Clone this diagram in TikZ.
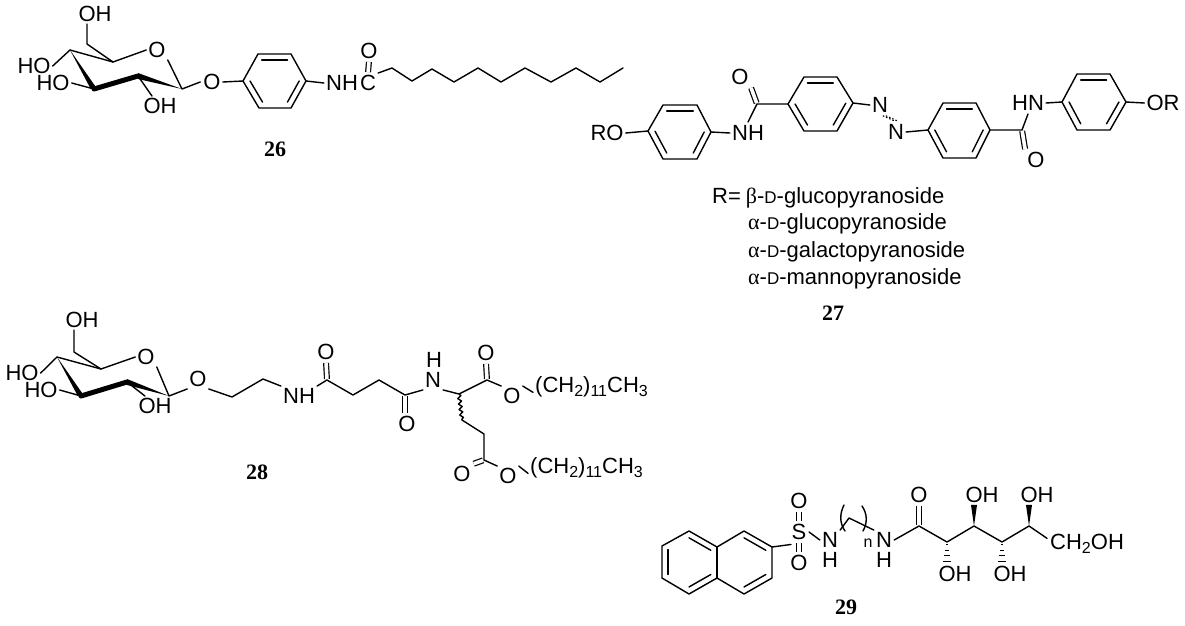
\documentclass[tikz,border=0pt]{standalone}
\usepackage{fontspec}
\usetikzlibrary{calc,decorations.pathmorphing}
\setmainfont{Liberation Sans}
\newfontfamily\serifgreek{Liberation Serif}
\newcommand{\sbs}[1]{\raisebox{-4pt}{\fontsize{16}{16}\selectfont #1}}
\newcommand{\ringdbl}[3]{\draw[bond] ($(#1)!.22!(#3)$) -- ($(#2)!.22!(#3)$);}
\newcommand{\pts}[1]{\foreach \n/\x/\y in {#1} {\coordinate (\n) at (\x,\y);}}
\newcommand{\hashb}[2]{\foreach \t/\w in {.12/.8,.37/1.6,.62/2.6,.87/3.6}
  {\draw[line width=1.1pt] ($(#1)!\t!(#2)+(-\w,0)$) -- ($(#1)!\t!(#2)+(\w,0)$);}}
\newcommand{\wedgeup}[2]{\fill (#1) -- ([xshift=-11pt]#2.south) -- ([xshift=-5pt]#2.south) -- cycle;}
\newcommand{\lgreek}[1]{{\serifgreek #1}}
\newcommand{\smD}{{\fontsize{17}{17}\selectfont D}}
\tikzset{
  x=1pt,y=-1pt,
  bond/.style={line width=1.4pt,line cap=round,line join=round},
  dblbond/.style={double,double distance=3.6pt,line width=1.2pt,shorten >=1pt,shorten <=1pt},
  azobond/.style={line width=1.1pt,dash pattern=on 1.5pt off 2pt,shorten >=2pt,shorten <=2pt},
  boldbond/.style={line width=5pt,line cap=round},
  atom/.style={font=\fontsize{22}{22}\selectfont,inner sep=2pt,text height=15.5pt,text depth=0pt},
  sidechain/.style={font=\fontsize{22}{22}\selectfont,inner sep=0pt,anchor=base west},
  rlist/.style={font=\fontsize{22}{22}\selectfont,inner sep=0pt,anchor=base west},
  cpdnum/.style={font=\fontsize{22}{22}\selectfont\serifgreek\bfseries,inner sep=0pt}
}
\begin{document}
\begin{tikzpicture}
\useasboundingbox (0,0) rectangle (1185,625);
% ---------------- 26
\node[atom] (aoh6) at (95,14) {OH};
\node[atom] (aor) at (157,50) {O};
\node[atom] (aho4) at (34,66) {HO};
\node[atom] (aho3) at (53,83) {HO};
\node[atom] (aoh2) at (160,106) {OH};
\node[atom] (aol) at (212,82) {O};
\node[atom] (anh) at (342,83) {NH};
\node[atom] (acc) at (368,83) {C};
\node[atom] (aoc) at (369,51) {O};
\pts{ac6/87/44,ac5/113/62,ac1/182/89,ac2/138/76,ac3/94/89,ac4/70/50}
\pts{ar1/243/81,ar2/258/54,ar3/291/54,ar4/306/81,ar5/291/108,ar6/259/108,arc/275/81}
\pts{ch1/392/68,ch2/412/81,ch3/432/69,ch4/454/82,ch5/478/68,ch6/501/82,ch7/525/68,ch8/551/82,ch9/576/68,ch10/600/82,ch11/623/68}
\draw[bond] ([xshift=-8pt]aoh6.south) -- (ac6) -- (ac5) -- (aor.west);
\draw[bond] (ac4) -- (ac5);
\draw[bond] (aor.south east) -- (ac1) -- ([xshift=-1pt]aol.west);
\draw[bond] (ac4) -- (aho4.east);
\draw[bond] (aho3.east) -- (ac3);
\draw[bond] (ac2) -- ([xshift=-8pt]aoh2.north);
\fill (ac4) -- ([xshift=-3.2pt]ac3) -- ([xshift=3.2pt]ac3) -- cycle;
\draw[boldbond] (ac3) -- (ac2);
\fill (ac1) -- ([yshift=3pt]ac2) -- ([yshift=-3pt]ac2) -- cycle;
\draw[bond] (aol.east) -- (ar1);
\draw[bond] (ar1) -- (ar2) -- (ar3) -- (ar4) -- (ar5) -- (ar6) -- cycle;
\ringdbl{ar2}{ar3}{arc}\ringdbl{ar4}{ar5}{arc}\ringdbl{ar6}{ar1}{arc}
\draw[bond] (ar4) -- (anh.west);
\draw[dblbond] (aoc.south) -- (acc.north);
\draw[bond] (acc.north east) -- (ch1) -- (ch2) -- (ch3) -- (ch4) -- (ch5) -- (ch6) -- (ch7) -- (ch8) -- (ch9) -- (ch10) -- (ch11);
\node[cpdnum] (n26) at (275,149) {26};
% ---------------- 27
\node[atom] (bro) at (607,133) {RO};
\node[atom] (bnh) at (748,133) {NH};
\node[atom] (bo1) at (740,77) {O};
\node[atom] (bn1) at (880,105) {N};
\node[atom] (bn2) at (896,132) {N};
\node[atom] (bhn) at (1028,103) {HN};
\node[atom] (bo2) at (1036,160) {O};
\node[atom] (bor) at (1163,103) {OR};
\pts{pa1/648/131,pa2/663/105,pa3/697/105,pa4/711/132,pa5/697/159,pa6/663/159,pac/680/132}
\pts{pb1/788/104,pb2/804/77,pb3/837/77,pb4/853/103,pb5/837/131,pb6/804/131,pbc/820/104}
\pts{pc1/928/130,pc2/943/103,pc3/976/103,pc4/990/130,pc5/976/158,pc6/943/158,pcc/959/130}
\pts{pd1/1062/102,pd2/1077/74,pd3/1110/74,pd4/1126/102,pd5/1110/130,pd6/1077/130,pdc/1094/102}
\pts{bc1/757/104,bc2/1022/130}
\draw[bond] (bro.east) -- (pa1);
\draw[bond] (pa1) -- (pa2) -- (pa3) -- (pa4) -- (pa5) -- (pa6) -- cycle;
\ringdbl{pa2}{pa3}{pac}\ringdbl{pa4}{pa5}{pac}\ringdbl{pa6}{pa1}{pac}
\draw[bond] (pa4) -- (bnh.west);
\draw[bond] ([yshift=1pt]bnh.north) -- (bc1) -- (pb1);
\draw[bond] (pb1) -- (pb2) -- (pb3) -- (pb4) -- (pb5) -- (pb6) -- cycle;
\ringdbl{pb2}{pb3}{pbc}\ringdbl{pb4}{pb5}{pbc}\ringdbl{pb6}{pb1}{pbc}
\draw[dblbond] (bc1) -- (bo1.south east);
\draw[bond] (pb4) -- (bn1.west);
\draw[azobond] ([xshift=1pt]bn1.south) -- ([xshift=1pt]bn2.north);
\draw[azobond] ([xshift=4pt]bn1.south) -- ([xshift=4pt]bn2.north);
\draw[bond] (bn2.east) -- (pc1);
\draw[bond] (pc1) -- (pc2) -- (pc3) -- (pc4) -- (pc5) -- (pc6) -- cycle;
\ringdbl{pc2}{pc3}{pcc}\ringdbl{pc4}{pc5}{pcc}\ringdbl{pc6}{pc1}{pcc}
\draw[bond] (pc4) -- (bc2) -- ([yshift=-1pt]bhn.south);
\draw[dblbond] (bc2) -- (bo2.north west);
\draw[bond] (bhn.east) -- (pd1);
\draw[bond] (pd1) -- (pd2) -- (pd3) -- (pd4) -- (pd5) -- (pd6) -- cycle;
\ringdbl{pd2}{pd3}{pdc}\ringdbl{pd4}{pd5}{pdc}\ringdbl{pd6}{pd1}{pdc}
\draw[bond] (pd4) -- (bor.west);
\node[rlist] (r1) at (712,203) {R=\hspace{5pt}\lgreek{β}-\smD-glucopyranoside};
\node[rlist] (r2) at (748,229) {\lgreek{α}-\smD-glucopyranoside};
\node[rlist] (r3) at (748,257) {\lgreek{α}-\smD-galactopyranoside};
\node[rlist] (r4) at (748,284) {\lgreek{α}-\smD-mannopyranoside};
\node[cpdnum] (n27) at (833,313) {27};
% ---------------- 28
\node[atom] (coh6) at (82,320) {OH};
\node[atom] (cor) at (146,357) {O};
\node[atom] (cho4) at (22,373) {HO};
\node[atom] (cho3) at (41,390) {HO};
\node[atom] (coh2) at (155,406) {OH};
\node[atom] (col) at (198,379) {O};
\node[atom] (cnh1) at (299,396) {NH};
\node[atom] (co1) at (326,352) {O};
\node[atom] (co2) at (407,424) {O};
\node[atom] (cn2) at (433,380) {N};
\node[atom,inner sep=0pt] (ch2t) at (434,360) {H};
\node[atom] (co3) at (486,353) {O};
\node[atom] (co4) at (512,396) {O};
\node[atom] (co5) at (462,474) {O};
\node[atom] (co6) at (508,476) {O};
\node[sidechain] (cal1) at (535,392) {(CH\sbs{2})\sbs{11}CH\sbs{3}};
\node[sidechain] (cal2) at (530,473) {(CH\sbs{2})\sbs{11}CH\sbs{3}};
\pts{cc6/74/352,cc5/101/369,cc1/169/396,cc2/127/382,cc3/81/396,cc4/57/357}
\pts{cl1/232/397,cl2/263/379,cs1/327/380,cs2/353/395,cs3/379/380,cs4/405/395,cg/459/394,ce1/487/380,cg2/462/420,cg3/484/434,cg4/484/460}
\draw[bond] ([xshift=-8pt]coh6.south) -- (cc6) -- (cc5) -- (cor.west);
\draw[bond] (cc4) -- (cc5);
\draw[bond] (cor.south east) -- (cc1) -- (col.south west);
\draw[bond] (cc4) -- (cho4.east);
\draw[bond] (cho3.east) -- (cc3);
\draw[bond] (cc2) -- ([xshift=-10pt]coh2.north);
\fill (cc4) -- ([xshift=-3.2pt]cc3) -- ([xshift=3.2pt]cc3) -- cycle;
\draw[boldbond] (cc3) -- (cc2);
\fill (cc1) -- ([yshift=3pt]cc2) -- ([yshift=-3pt]cc2) -- cycle;
\draw[bond] (col.south east) -- (cl1) -- (cl2) -- (cnh1.north west);
\draw[bond] (cnh1.north east) -- (cs1) -- (cs2) -- (cs3) -- (cs4) -- (cn2.south west);
\draw[dblbond] (co1.south) -- (cs1);
\draw[dblbond] (cs4) -- ([xshift=-2pt]co2.north);
\draw[bond] (cn2.south east) -- (cg) -- (ce1) -- (co4.north west);
\draw[dblbond] (co3.south) -- (ce1);
\draw[bond] (co4.north east) -- ([xshift=-2pt,yshift=-6pt]cal1.west);
\draw[bond,decorate,decoration={snake,segment length=5.5pt,amplitude=1.7pt}] (cg) -- (cg2);
\draw[bond] (cg2) -- (cg3) -- (cg4) -- (co6.north west);
\draw[dblbond] (cg4) -- (co5.north east);
\draw[bond] (co6.north east) -- ([xshift=-2pt,yshift=-6pt]cal2.west);
\node[cpdnum] (n28) at (257,472) {28};
% ---------------- 29
\node[atom,inner sep=2.5pt] (ds) at (799,532) {S};
\node[atom] (do1) at (799,501) {O};
\node[atom] (do2) at (799,563) {O};
\node[atom] (dn1) at (830,540) {N};
\node[atom,inner sep=0pt] (dh1) at (830,560) {H};
\node[atom] (dn2) at (884,540) {N};
\node[atom,inner sep=0pt] (dh2) at (884,560) {H};
\node[font=\fontsize{16}{16}\selectfont,inner sep=0pt] (dn) at (868,543) {n};
\node[atom] (do3) at (919,495) {O};
\node[atom] (doh1) at (982,495) {OH};
\node[atom] (doh2) at (1037,495) {OH};
\node[atom] (doh3) at (955,574) {OH};
\node[atom] (doh4) at (1010,574) {OH};
\node[sidechain] (dal) at (1050,549) {CH\sbs{2}OH};
\pts{na1/662/546,na2/689/531,na3/717/547,na4/744/531,na5/772/547,na6/772/578,na7/744/594,na8/717/578,na9/689/594,na10/662/578,nac/689/562,nbc/744/562}
\pts{dm/849/518,dc1/919/526,dc2/947/542,dc3/974/526,dc4/1002/542,dc5/1029/526}
\draw[bond] (na1) -- (na2) -- (na3) -- (na4) -- (na5) -- (na6) -- (na7) -- (na8) -- (na9) -- (na10) -- cycle;
\draw[bond] (na3) -- (na8);
\ringdbl{na1}{na10}{nac}\ringdbl{na2}{na3}{nac}\ringdbl{na8}{na9}{nac}
\ringdbl{na4}{na5}{nbc}\ringdbl{na7}{na6}{nbc}
\draw[bond] (na5) -- ([xshift=2pt,yshift=-2pt]ds.south west);
\draw[dblbond] (do1.south) -- (ds.north);
\draw[dblbond] (ds.south) -- (do2.north);
\draw[bond] (ds.east) -- (dn1.west);
\draw[bond] (dn1.north east) -- (dm) -- (dn2.north west);
\draw[bond] (844,505) .. controls (839.5,514) and (839.5,523) .. (845,531);
\draw[bond] (862,506) .. controls (867.5,514) and (867.5,523) .. (863,531);
\draw[bond] (dn2.east) -- (dc1) -- (dc2) -- (dc3) -- (dc4) -- (dc5) -- ([xshift=-3pt,yshift=5pt]dal.west);
\draw[dblbond] (do3.south) -- (dc1);
\wedgeup{dc3}{doh1}
\wedgeup{dc5}{doh2}
\coordinate (dt1) at ([xshift=-8pt]doh3.north);
\coordinate (dt2) at ([xshift=-8pt]doh4.north);
\hashb{dc2}{dt1}
\hashb{dc4}{dt2}
\node[cpdnum] (n29) at (846,607) {29};
\end{tikzpicture}
\end{document}
